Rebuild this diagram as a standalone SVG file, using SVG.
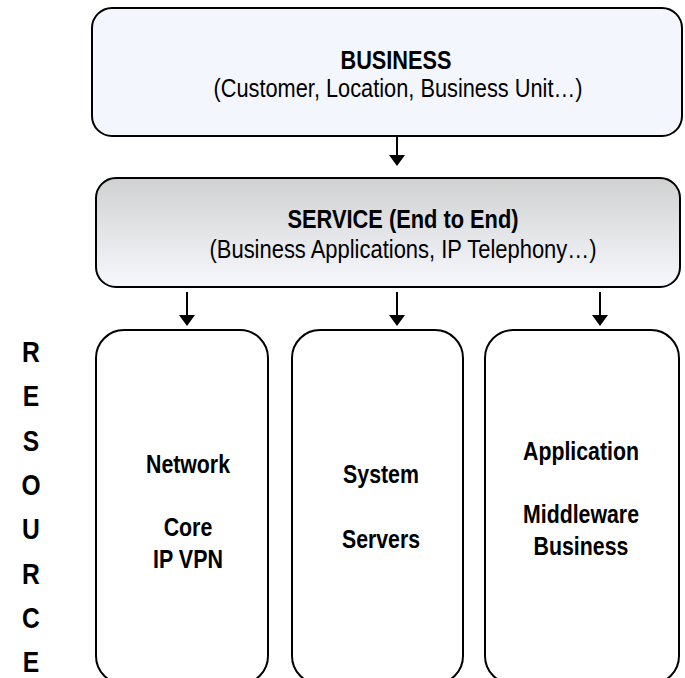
<svg xmlns="http://www.w3.org/2000/svg" width="685" height="678" viewBox="0 0 685 678">
<style>
.box{stroke:#000;stroke-width:2;}
text{font-family:"Liberation Sans Narrow","Arial Narrow","Liberation Sans",Arial,sans-serif;font-size:26.5px;fill:#000;text-anchor:middle;}
.b{font-weight:bold;}
.r{font-size:26px;font-weight:bold;}
.res{font-size:30px;font-weight:bold;}
.conn{stroke:#000;stroke-width:2;fill:none;marker-end:url(#arr);}
</style>
<defs>
<linearGradient id="svcGrad" x1="0" y1="0" x2="0" y2="1">
<stop offset="0" stop-color="#d0d1d1"/>
<stop offset="1" stop-color="#f6f8fd"/>
</linearGradient>
<marker id="arr" viewBox="0 0 11 16" refX="7" refY="8" markerWidth="11" markerHeight="16" markerUnits="userSpaceOnUse" orient="auto">
<path d="M0,0 L11,8 L0,16 Z" fill="#000"/>
</marker>
</defs>
<rect width="685" height="678" fill="#fff"/>
<g id="business">
<rect class="box" x="92" y="8" width="590" height="128" rx="20" fill="#f3f6fd"/>
<text class="b" x="396" y="69" textLength="111" lengthAdjust="spacingAndGlyphs">BUSINESS</text>
<text x="398" y="97" textLength="369" lengthAdjust="spacingAndGlyphs">(Customer, Location, Business Unit…)</text>
</g>
<g id="service">
<rect class="box" x="96" y="178" width="584" height="109" rx="20" fill="url(#svcGrad)"/>
<text class="b" x="403" y="228" textLength="231" lengthAdjust="spacingAndGlyphs">SERVICE (End to End)</text>
<text x="403" y="258" textLength="387" lengthAdjust="spacingAndGlyphs">(Business Applications, IP Telephony…)</text>
</g>
<g id="network">
<rect class="box" x="96" y="330" width="172" height="354" rx="28" fill="#fff"/>
<text class="r" x="188" y="473" textLength="84" lengthAdjust="spacingAndGlyphs">Network</text>
<text class="r" x="188" y="536" textLength="48.6" lengthAdjust="spacingAndGlyphs">Core</text>
<text class="r" x="188" y="568" textLength="70" lengthAdjust="spacingAndGlyphs">IP VPN</text>
</g>
<g id="system">
<rect class="box" x="292" y="330" width="171" height="354" rx="28" fill="#fff"/>
<text class="r" x="381" y="483" textLength="76" lengthAdjust="spacingAndGlyphs">System</text>
<text class="r" x="381" y="548" textLength="78" lengthAdjust="spacingAndGlyphs">Servers</text>
</g>
<g id="application">
<rect class="box" x="485" y="330" width="194" height="354" rx="28" fill="#fff"/>
<text class="r" x="581" y="460" textLength="116" lengthAdjust="spacingAndGlyphs">Application</text>
<text class="r" x="581" y="523" textLength="116" lengthAdjust="spacingAndGlyphs">Middleware</text>
<text class="r" x="581" y="555" textLength="95" lengthAdjust="spacingAndGlyphs">Business</text>
</g>
<g id="resource-label">
<text class="res" x="31" y="362" textLength="17.8" lengthAdjust="spacingAndGlyphs">R</text>
<text class="res" x="31" y="406" textLength="16.4" lengthAdjust="spacingAndGlyphs">E</text>
<text class="res" x="31" y="451" textLength="16.4" lengthAdjust="spacingAndGlyphs">S</text>
<text class="res" x="31" y="495" textLength="19.1" lengthAdjust="spacingAndGlyphs">O</text>
<text class="res" x="31" y="539" textLength="17.8" lengthAdjust="spacingAndGlyphs">U</text>
<text class="res" x="31" y="584" textLength="17.8" lengthAdjust="spacingAndGlyphs">R</text>
<text class="res" x="31" y="628" textLength="17.8" lengthAdjust="spacingAndGlyphs">C</text>
<text class="res" x="31" y="672" textLength="16.4" lengthAdjust="spacingAndGlyphs">E</text>
</g>
<g id="connectors">
<line class="conn" x1="397" y1="137" x2="397" y2="162"/>
<line class="conn" x1="187" y1="292" x2="187" y2="322"/>
<line class="conn" x1="397" y1="292" x2="397" y2="322"/>
<line class="conn" x1="600" y1="292" x2="600" y2="322"/>
</g>
</svg>
